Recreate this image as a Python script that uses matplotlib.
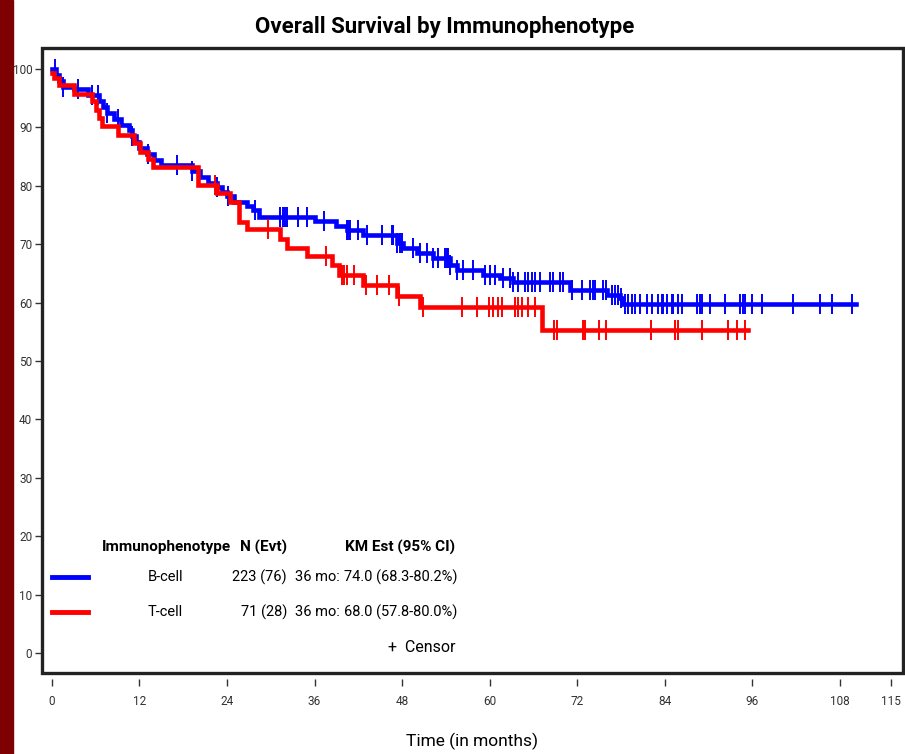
import matplotlib
matplotlib.use('Agg')
import matplotlib.pyplot as plt
import numpy as np
from matplotlib.patches import Rectangle

# no narrow face installed, Roboto is the slimmest of what is there
plt.rcParams['font.family'] = ['Roboto', 'DejaVu Sans']

# ---- data ----
b_times = [0, 0.5, 1.0, 1.5, 3.0, 5.0, 6.5, 7.0, 7.5, 8.5, 9.5, 10.5, 11.0, 11.5, 12.0, 13.0, 14.0, 15.0,
           19.2, 20.3, 21.4, 22.6, 23.3, 24.0, 25.0, 26.7, 27.5, 28.4, 36.0, 39.0, 40.4, 42.7, 47.3, 48.2,
           50.0, 52.3, 54.6, 55.5, 59.1, 61.5, 63.2, 71.0, 76.1, 77.9, 78.3]
b_surv = [100, 99.0, 98.0, 97.0, 96.5, 95.5, 94.5, 93.5, 92.5, 91.5, 90.5, 89.5, 88.5, 87.5, 86.5, 85.5, 84.5, 83.5,
          82.5, 81.5, 80.5, 79.8, 79.0, 78.3, 77.3, 76.5, 75.8, 74.7, 73.9, 73.1, 72.4, 71.5, 70.2, 69.3,
          68.5, 67.6, 66.4, 65.6, 64.8, 64.2, 63.6, 62.2, 61.3, 60.8, 59.8]
b_end = 110.2
b_censor = [0.4, 1.5, 3.6, 5.5, 6.3, 7.5, 9.1, 11.0, 13.2, 17.1, 19.2, 22.6, 24.1, 27.8, 31.3, 31.7, 32.0, 32.2,
            33.7, 35.0, 37.3, 40.5, 40.6, 40.9, 42.0, 43.2, 45.3, 46.6, 46.8, 47.3, 47.7, 48.0, 49.5, 50.5,
            51.4, 52.3, 52.9, 53.9, 54.2, 54.3, 54.6, 55.6, 56.4, 57.8, 59.4, 60.1, 60.8, 61.9, 62.8, 63.2,
            63.9, 64.9, 65.3, 65.8, 66.3, 66.9, 68.3, 68.7, 69.7, 70.1, 71.3, 72.7, 73.8, 74.2, 74.5, 75.6,
            76.0, 76.8, 77.2, 77.6, 78.0, 78.6, 79.0, 79.6, 80.0, 80.7, 81.6, 82.3, 83.1, 83.7, 83.8, 84.4,
            85.0, 85.2, 85.9, 86.4, 88.5, 88.9, 89.2, 90.3, 92.3, 94.4, 94.7, 95.1, 96.0, 97.4, 101.6, 105.3,
            107.0, 109.7]

t_times = [0, 0.3, 0.9, 3.0, 5.5, 6.0, 6.5, 6.9, 9.1, 11.2, 12.1, 13.2, 13.9, 20.0, 22.6, 24.4, 25.7, 26.7,
           31.2, 32.2, 35.0, 38.4, 39.3, 42.7, 47.3, 50.5, 67.2]
t_surv = [99.3, 98.4, 97.3, 95.8, 94.5, 93.0, 91.6, 90.2, 88.7, 87.3, 85.8, 84.6, 83.2, 80.1, 78.7, 77.2, 73.8, 72.6,
          70.9, 69.4, 68.0, 66.4, 64.7, 63.0, 61.1, 59.2, 55.3]
t_end = 95.5
t_censor = [22.4, 29.6, 37.6, 39.8, 40.1, 40.5, 41.4, 43.1, 44.6, 46.2, 47.6, 50.9, 56.2, 58.3, 59.9, 60.5,
            61.2, 61.7, 63.5, 63.9, 64.5, 65.3, 66.3, 68.9, 69.3, 72.8, 73.1, 75.0, 76.0, 82.2, 85.5, 85.9,
            89.2, 92.7, 94.0, 95.1]

groups = ['B-cell', 'T-cell']
n_evt = ['223 (76)', '71 (28)']
km36 = ['74.0 (68.3-80.2%)', '68.0 (57.8-80.0%)']
x_ticks = [0, 12, 24, 36, 48, 60, 72, 84, 96, 108, 115]
y_ticks = [0, 10, 20, 30, 40, 50, 60, 70, 80, 90, 100]

BLUE = '#0000ff'
RED = '#ff0000'

fig = plt.figure(figsize=(9.05, 7.54), dpi=100)
fig.patches.append(Rectangle((0, 0), 13 / 905, 1, transform=fig.transFigure, color='#7f0000', zorder=0))
ax = fig.add_axes([42 / 905, 81 / 754, 861 / 905, 625 / 754])


def draw_km(times, surv, end, censor, color):
    tt = np.append(times, end)
    ss = np.append(surv, surv[-1])
    ax.step(tt, ss, where='post', color=color, lw=3.3, solid_joinstyle='miter', zorder=3)
    idx = np.searchsorted(times, censor, side='right') - 1
    ax.plot(censor, np.asarray(surv)[idx], ls='none', marker='|', ms=14, mew=1.4, color=color, zorder=3)


draw_km(b_times, b_surv, b_end, b_censor, BLUE)
draw_km(t_times, t_surv, t_end, t_censor, RED)

ax.set_xlim(-1.37, 116.7)
ax.set_ylim(-3.42, 103.6)
ax.set_xticks(x_ticks)
ax.set_yticks(y_ticks)
ax.tick_params(axis='both', colors='#333333', labelsize=8.5, width=1, length=5)
ax.tick_params(axis='x', pad=7)
ax.tick_params(axis='y', pad=2)

# frame drawn as a box, x ticks sit a few px below it
for s in ax.spines.values():
    s.set_visible(False)
ax.spines['bottom'].set_position(('outward', 4))
ax.add_patch(Rectangle((0, 0), 1, 1, transform=ax.transAxes, fill=False, lw=2.4, ec='#222222',
                       clip_on=False, zorder=5))

fig.text(445 / 905, 1 - 27 / 754, 'Overall Survival by Immunophenotype', ha='center', va='center',
         fontsize=16, fontweight='bold')
fig.text(472 / 905, 1 - 741 / 754, 'Time (in months)', ha='center', va='center', fontsize=12.5)

# legend table
tr = ax.transAxes
fs = 10.5
ax.text(0.0697, 0.2016, 'Immunophenotype', transform=tr, ha='left', va='center', fontsize=11, fontweight='bold')
ax.text(0.2846, 0.2016, 'N (Evt)', transform=tr, ha='right', va='center', fontsize=11, fontweight='bold')
ax.text(0.4797, 0.2016, 'KM Est (95% CI)', transform=tr, ha='right', va='center', fontsize=11, fontweight='bold')
for i, (g, c) in enumerate(zip(groups, [BLUE, RED])):
    y = [0.1536, 0.0976][i]
    ax.plot([0.0116, 0.0534], [y, y], transform=tr, color=c, lw=3.5)
    ax.text(0.1429, y, g, transform=tr, ha='center', va='center', fontsize=fs)
    ax.text(0.2846, y, n_evt[i], transform=tr, ha='right', va='center', fontsize=fs)
    ax.text(0.2938, y, '36 mo:', transform=tr, ha='left', va='center', fontsize=fs)
    ax.text(0.483, y, km36[i], transform=tr, ha='right', va='center', fontsize=fs)
ax.text(0.4797, 0.0416, '+  Censor', transform=tr, ha='right', va='center', fontsize=fs + 1)

fig.savefig('out.png', dpi=100)
